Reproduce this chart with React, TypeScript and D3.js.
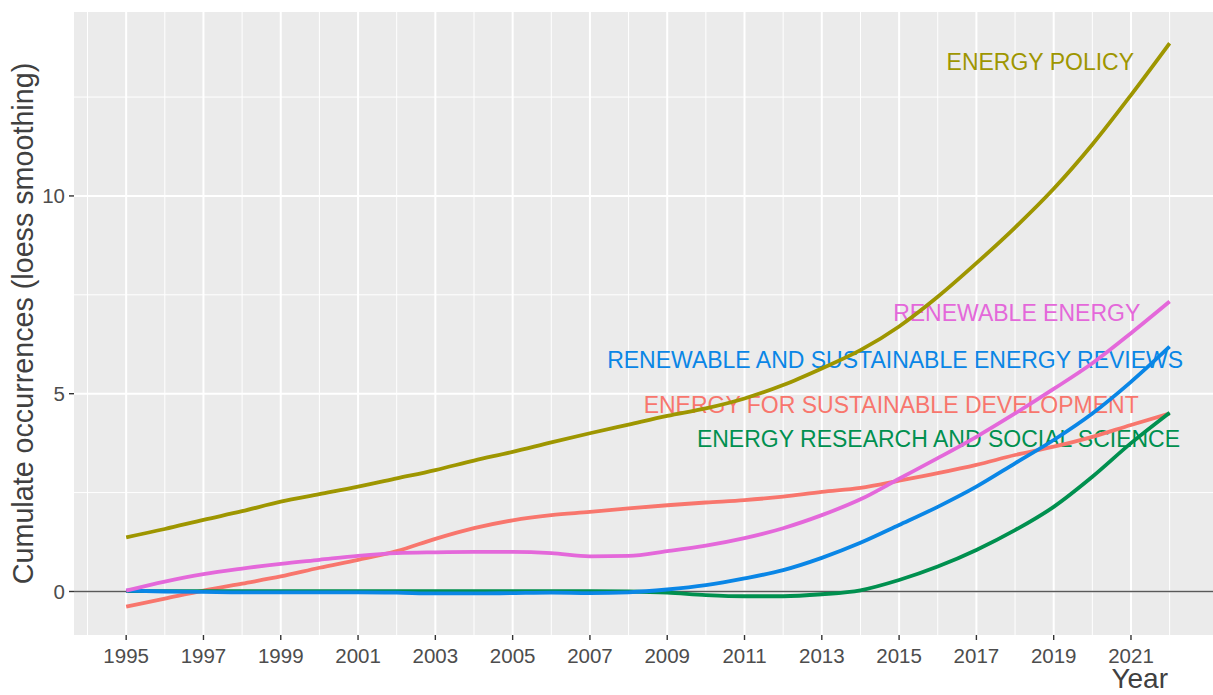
import React from "react";
import * as d3 from "d3";

const years = d3.range(1995, 2023);

const energyPolicy = [1.37, 1.58, 1.81, 2.03, 2.27, 2.46, 2.65, 2.86, 3.07, 3.31, 3.53, 3.77, 4.0, 4.22, 4.44, 4.63, 4.88, 5.22, 5.64, 6.1, 6.7, 7.45, 8.3, 9.2, 10.18, 11.3, 12.55, 13.86];
const energySustDev = [-0.38, -0.18, 0.02, 0.2, 0.38, 0.6, 0.8, 1.02, 1.33, 1.6, 1.8, 1.93, 2.01, 2.1, 2.18, 2.25, 2.31, 2.4, 2.52, 2.62, 2.8, 2.99, 3.2, 3.45, 3.66, 3.91, 4.21, 4.5];
const renewableEnergy = [0.02, 0.25, 0.44, 0.58, 0.7, 0.8, 0.9, 0.97, 0.99, 1.0, 1.0, 0.97, 0.89, 0.9, 1.02, 1.16, 1.35, 1.6, 1.93, 2.33, 2.85, 3.37, 3.91, 4.5, 5.12, 5.77, 6.53, 7.33];
const renewSustReviews = [0.02, 0.0, -0.01, -0.02, -0.02, -0.02, -0.02, -0.03, -0.05, -0.05, -0.04, -0.03, -0.04, -0.02, 0.05, 0.16, 0.33, 0.54, 0.85, 1.23, 1.68, 2.14, 2.65, 3.24, 3.83, 4.5, 5.3, 6.19];
const energyResSocSci = [0.01, 0.01, 0.01, 0.01, 0.01, 0.01, 0.01, 0.01, 0.01, 0.01, 0.01, 0.01, 0.01, 0.0, -0.03, -0.09, -0.12, -0.12, -0.07, 0.03, 0.29, 0.63, 1.05, 1.55, 2.14, 2.9, 3.75, 4.52];

// draw order = factor order
const seriesNames = [
  "ENERGY FOR SUSTAINABLE DEVELOPMENT",
  "ENERGY POLICY",
  "ENERGY RESEARCH AND SOCIAL SCIENCE",
  "RENEWABLE AND SUSTAINABLE ENERGY REVIEWS",
  "RENEWABLE ENERGY",
];
const seriesValues = [energySustDev, energyPolicy, energyResSocSci, renewSustReviews, renewableEnergy];
const seriesColors = ["#F8766D", "#9E9600", "#00904F", "#0A86E6", "#E468DA"];

// label anchor (right end, in year units) and vertical centre (data units)
const labelX = [2021.2, 2021.08, 2022.27, 2022.35, 2021.24];
const labelY = [4.73, 13.4, 3.86, 5.87, 7.05];

const xTicks = d3.range(1995, 2022, 2);
const xMinor = d3.range(1994, 2023, 2);
const yTicks = [0, 5, 10];
const yMinor = [2.5, 7.5, 12.5];

const W = 1213;
const H = 695;
const panel = { left: 74, top: 12, bottom: 635 };

export default function App() {
  const x = d3.scaleLinear().domain([1995 - 1.35, 2022 + 1.35]).range([panel.left, 1221.8]);
  const y = d3.scaleLinear().domain([-1.1, 14.65]).range([panel.bottom, panel.top]);
  const line = d3
    .line<number>()
    .x((_, i) => x(years[i]))
    .y((d) => y(d))
    .curve(d3.curveMonotoneX);
  const font = "'Liberation Sans', Arial, sans-serif";
  const pr = x.range()[1];
  return (
    <svg width={W} height={H} style={{ position: "absolute", left: 0, top: 0, fontFamily: font }}>
      <defs>
        <clipPath id="pclip">
          <rect x={panel.left} y={panel.top} width={pr - panel.left} height={panel.bottom - panel.top} />
        </clipPath>
      </defs>
      <rect x={0} y={0} width={W} height={H} fill="#fff" />
      <rect x={panel.left} y={panel.top} width={pr - panel.left} height={panel.bottom - panel.top} fill="#EBEBEB" />
      {xMinor.map((t) => (
        <line key={"xm" + t} x1={x(t)} x2={x(t)} y1={panel.top} y2={panel.bottom} stroke="#fff" strokeWidth={1} />
      ))}
      {yMinor.map((t) => (
        <line key={"ym" + t} x1={panel.left} x2={pr} y1={y(t)} y2={y(t)} stroke="#fff" strokeWidth={1} />
      ))}
      {xTicks.map((t) => (
        <line key={"xg" + t} x1={x(t)} x2={x(t)} y1={panel.top} y2={panel.bottom} stroke="#fff" strokeWidth={2} />
      ))}
      {yTicks.map((t) => (
        <line key={"yg" + t} x1={panel.left} x2={pr} y1={y(t)} y2={y(t)} stroke="#fff" strokeWidth={2} />
      ))}
      <line x1={panel.left} x2={pr} y1={y(0)} y2={y(0)} stroke="#595959" strokeWidth={1.4} />
      <g clipPath="url(#pclip)">
        {seriesNames.map((n, i) => (
          <text
            key={"lab" + n}
            x={x(labelX[i])}
            y={y(labelY[i])}
            dy="0.36em"
            textAnchor="end"
            fontSize={23}
            fill={seriesColors[i]}
          >
            {n}
          </text>
        ))}
        {seriesNames.map((n, i) => (
          <path key={n} d={line(seriesValues[i]) || ""} fill="none" stroke={seriesColors[i]} strokeWidth={3.8} />
        ))}
      </g>
      {xTicks.map((t) => (
        <g key={"xt" + t}>
          <line x1={x(t)} x2={x(t)} y1={panel.bottom} y2={panel.bottom + 5} stroke="#333" strokeWidth={1.4} />
          <text x={x(t)} y={663} textAnchor="middle" fontSize={20.5} fill="#4D4D4D">
            {t}
          </text>
        </g>
      ))}
      {yTicks.map((t) => (
        <g key={"yt" + t}>
          <line x1={panel.left - 5} x2={panel.left} y1={y(t)} y2={y(t)} stroke="#333" strokeWidth={1.4} />
          <text x={65} y={y(t)} dy="0.36em" textAnchor="end" fontSize={20.5} fill="#4D4D4D">
            {t}
          </text>
        </g>
      ))}
      <text
        transform={`translate(33, ${(panel.top + panel.bottom) / 2}) rotate(-90)`}
        textAnchor="middle"
        fontSize={28.7}
        fill="#404040"
      >
        Cumulate occurrences (loess smoothing)
      </text>
      <text x={1168} y={688} textAnchor="end" fontSize={28} fill="#404040">
        Year
      </text>
    </svg>
  );
}
